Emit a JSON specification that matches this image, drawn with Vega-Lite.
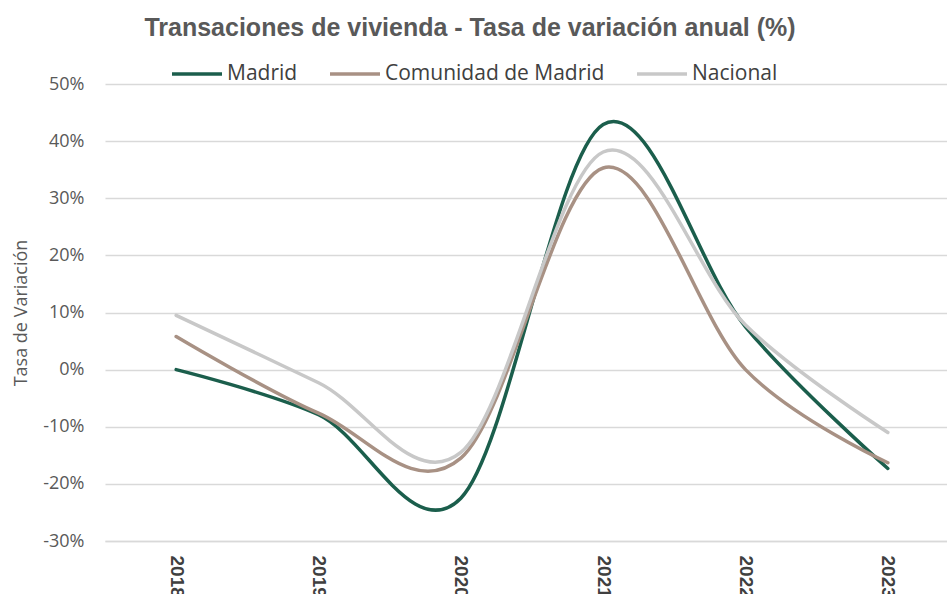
{
  "$schema": "https://vega.github.io/schema/vega-lite/v6.json",
  "autosize": {"type": "none"},
  "padding": {"left": 105, "top": 84, "right": 0, "bottom": 53},
  "width": 854,
  "height": 457,
  "background": "white",
  "title": {
    "text": "Transaciones de vivienda - Tasa de variación anual (%)",
    "font": "Liberation Sans",
    "fontSize": 25,
    "fontWeight": "bold",
    "color": "#595959",
    "anchor": "middle",
    "frame": "group",
    "dx": -62,
    "baseline": "alphabetic",
    "offset": -14
  },
  "data": {
    "values": [
      {"year": "2018", "serie": "Madrid", "valor": 0},
      {"year": "2019", "serie": "Madrid", "valor": -7.9},
      {"year": "2020", "serie": "Madrid", "valor": -22.5},
      {"year": "2021", "serie": "Madrid", "valor": 42.9},
      {"year": "2022", "serie": "Madrid", "valor": 7.5},
      {"year": "2023", "serie": "Madrid", "valor": -17.3},
      {"year": "2018", "serie": "Comunidad de Madrid", "valor": 5.8},
      {"year": "2019", "serie": "Comunidad de Madrid", "valor": -7.6},
      {"year": "2020", "serie": "Comunidad de Madrid", "valor": -15.5},
      {"year": "2021", "serie": "Comunidad de Madrid", "valor": 35.3},
      {"year": "2022", "serie": "Comunidad de Madrid", "valor": 0},
      {"year": "2023", "serie": "Comunidad de Madrid", "valor": -16.3},
      {"year": "2018", "serie": "Nacional", "valor": 9.5},
      {"year": "2019", "serie": "Nacional", "valor": -2.3},
      {"year": "2020", "serie": "Nacional", "valor": -14.5},
      {"year": "2021", "serie": "Nacional", "valor": 38.1},
      {"year": "2022", "serie": "Nacional", "valor": 7.8},
      {"year": "2023", "serie": "Nacional", "valor": -11}
    ]
  },
  "mark": {"type": "line", "interpolate": "cardinal", "strokeWidth": 3.5, "strokeCap": "round"},
  "encoding": {
    "x": {
      "field": "year",
      "type": "ordinal",
      "scale": {"type": "point", "padding": 0.5},
      "axis": {
        "title": null,
        "labelAngle": 90,
        "labelFont": "Liberation Sans",
        "labelFontWeight": "bold",
        "labelFontSize": 19,
        "labelColor": "#404040",
        "labelPadding": 14,
        "ticks": false,
        "grid": false,
        "domain": true,
        "domainColor": "#d9d9d9",
        "domainWidth": 1.5
      }
    },
    "y": {
      "field": "valor",
      "type": "quantitative",
      "scale": {"domain": [-30, 50], "nice": false, "zero": false},
      "axis": {
        "title": "Tasa de Variación",
        "titleFont": "Open Sans",
        "titleFontSize": 18,
        "titleFontWeight": "normal",
        "titleColor": "#595959",
        "titlePadding": 12,
        "values": [-30, -20, -10, 0, 10, 20, 30, 40, 50],
        "labelExpr": "datum.value + '%'",
        "labelFont": "Open Sans",
        "labelFontSize": 18,
        "labelColor": "#595959",
        "labelPadding": 21,
        "ticks": false,
        "domain": false,
        "grid": true,
        "gridColor": "#d9d9d9",
        "gridWidth": 1.5
      }
    },
    "color": {
      "field": "serie",
      "type": "nominal",
      "sort": ["Madrid", "Comunidad de Madrid", "Nacional"],
      "scale": {
        "domain": ["Madrid", "Comunidad de Madrid", "Nacional"],
        "range": ["#1b5e4c", "#a89184", "#c8c8c8"]
      },
      "legend": {
        "title": null,
        "orient": "none",
        "direction": "horizontal",
        "columns": 3,
        "legendX": 65,
        "legendY": -37,
        "padding": 0,
        "symbolType": "stroke",
        "symbolSize": 2500,
        "symbolStrokeWidth": 3.5,
        "labelFont": "Open Sans",
        "labelFontSize": 21,
        "labelColor": "#404040",
        "labelOffset": 3,
        "columnPadding": 25,
        "labelLimit": 400
      }
    }
  },
  "config": {"view": {"stroke": null}}
}
